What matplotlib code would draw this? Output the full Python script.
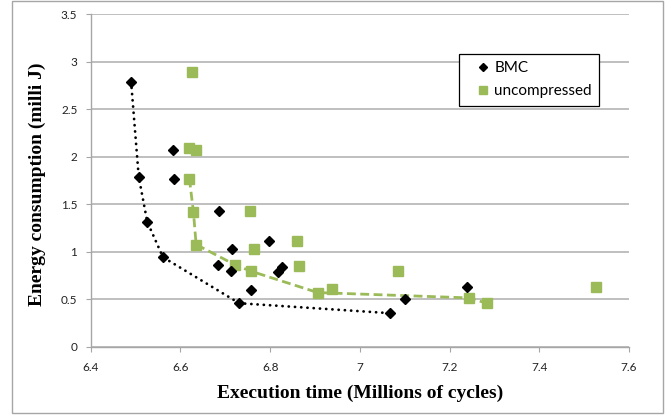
import matplotlib
matplotlib.use("Agg")
import matplotlib.pyplot as plt
from matplotlib.patches import Rectangle

# BMC design points (execution time in Mcycles, energy in mJ)
bmc_x = [6.49, 6.507, 6.526, 6.561, 6.583, 6.586, 6.686, 6.683, 6.714,
         6.713, 6.731, 6.757, 6.798, 6.826, 6.818, 7.068, 7.100, 7.238]
bmc_y = [2.79, 1.79, 1.316, 0.944, 2.07, 1.77, 1.428, 0.86, 1.028,
         0.797, 0.46, 0.60, 1.116, 0.842, 0.786, 0.355, 0.505, 0.628]

# uncompressed design points
unc_x = [6.626, 6.618, 6.634, 6.620, 6.629, 6.635, 6.756, 6.763, 6.722,
         6.757, 6.859, 6.864, 6.906, 6.938, 7.084, 7.243, 7.283, 7.526]
unc_y = [2.89, 2.09, 2.07, 1.77, 1.418, 1.077, 1.428, 1.03, 0.863,
         0.797, 1.119, 0.849, 0.572, 0.607, 0.80, 0.516, 0.46, 0.628]

# pareto fronts
bmc_front_x = [6.49, 6.507, 6.526, 6.561, 6.731, 7.068]
bmc_front_y = [2.79, 1.79, 1.316, 0.944, 0.46, 0.355]
unc_front_x = [6.620, 6.629, 6.635, 6.722, 6.757, 6.906, 7.243, 7.283]
unc_front_y = [1.77, 1.418, 1.077, 0.863, 0.797, 0.572, 0.516, 0.46]

x_ticks = [6.4, 6.6, 6.8, 7.0, 7.2, 7.4, 7.6]
x_tick_labels = ["6.4", "6.6", "6.8", "7", "7.2", "7.4", "7.6"]
y_ticks = [0, 0.5, 1, 1.5, 2, 2.5, 3, 3.5]
y_tick_labels = ["0", "0.5", "1", "1.5", "2", "2.5", "3", "3.5"]

green = "#9BBB59"
grey = "#A6A6A6"

fig = plt.figure(figsize=(6.72, 4.18), dpi=100)
fig.patches.append(Rectangle((0.0174, 0.0127), 0.9696, 0.985,
                             transform=fig.transFigure, fill=False,
                             edgecolor=grey, linewidth=1.0))

ax = fig.add_axes([0.135, 0.1699, 0.801, 0.7966])

ax.plot(bmc_front_x, bmc_front_y, color="black", linewidth=2.0,
        linestyle=(0, (0.05, 2.2)), dash_capstyle="round", zorder=2)
ax.plot(unc_front_x, unc_front_y, color=green, linewidth=2.0,
        dashes=(3.2, 1.6), zorder=2)

ax.plot(bmc_x, bmc_y, linestyle="none", marker="D", markersize=5.2,
        color="black", label="BMC", zorder=4)
ax.plot(unc_x, unc_y, linestyle="none", marker="s", markersize=7.6,
        color=green, label="uncompressed", zorder=3)

ax.set_xlim(6.4, 7.6)
ax.set_ylim(0, 3.5)
ax.set_xticks(x_ticks)
ax.set_xticklabels(x_tick_labels)
ax.set_yticks(y_ticks)
ax.set_yticklabels(y_tick_labels)

ax.yaxis.grid(True, color="#B4B4B4", linewidth=1.2)
ax.set_axisbelow(True)
for s in ["top", "right"]:
    ax.spines[s].set_visible(False)
for s in ["left", "bottom"]:
    ax.spines[s].set_color(grey)
    ax.spines[s].set_linewidth(1.0)

ax.tick_params(axis="both", direction="out", length=3.6, width=0.8,
               color=grey, labelsize=8.5, labelcolor="#222222")
ax.tick_params(axis="x", pad=7)
ax.tick_params(axis="y", pad=6)
for lbl in ax.get_xticklabels() + ax.get_yticklabels():
    lbl.set_family("Lato")

ax.set_xlabel("Execution time (Millions of cycles)", family="Liberation Serif",
              fontweight="bold", fontsize=14)
ax.xaxis.set_label_coords(0.5, -0.112)
ax.set_ylabel("Energy consumption (milli J)", family="Liberation Serif",
              fontweight="bold", fontsize=14)
ax.yaxis.set_label_coords(-0.1, 0.49)
ax.yaxis.label.set_va("center")

leg = ax.legend(loc="upper left", bbox_to_anchor=(0.67, 0.904),
                frameon=True, fancybox=False, framealpha=1,
                edgecolor="black", handlelength=2.2, handletextpad=-0.4,
                borderpad=0.5, labelspacing=0.6, markerscale=0.75,
                prop={"family": "Lato", "size": 11})
leg.get_frame().set_linewidth(0.9)

fig.savefig("out.png", dpi=100)
